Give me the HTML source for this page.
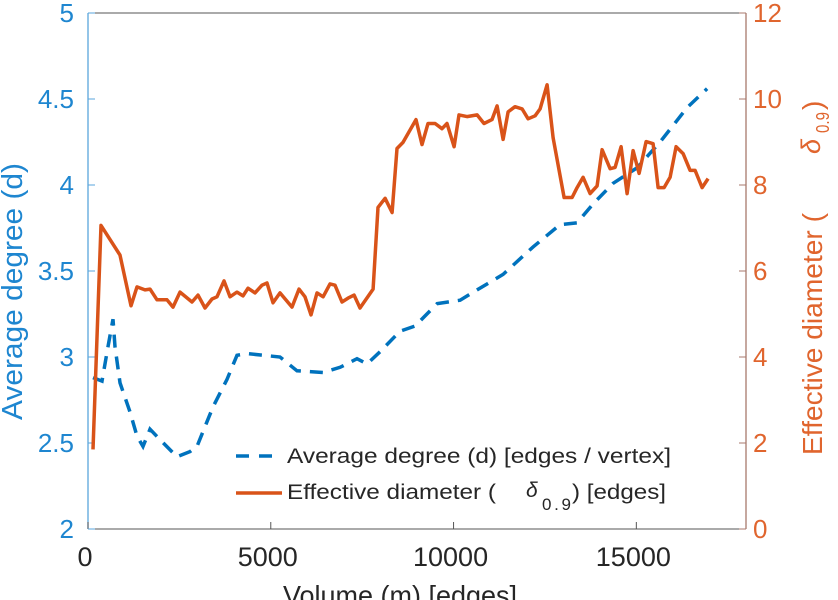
<!DOCTYPE html>
<html><head><meta charset="utf-8"><style>
html,body{margin:0;padding:0;background:#fff;}
svg{display:block;font-family:"Liberation Sans",sans-serif;}
</style></head><body>
<svg id="chart" width="838" height="600" viewBox="0 0 838 600">
<g id="axes"></g>
<g id="series"></g>
<g id="legend">
  <line x1="236" y1="456" x2="276" y2="456" stroke="#0072BD" stroke-width="3.5" stroke-dasharray="13,10"/>
  <text x="287" y="463" font-size="21" textLength="384" lengthAdjust="spacingAndGlyphs" fill="#262626">Average degree (d) [edges / vertex]</text>
  <line x1="236" y1="493" x2="282" y2="493" stroke="#D95319" stroke-width="3.5"/>
  <text x="287" y="499" font-size="21" textLength="209" lengthAdjust="spacingAndGlyphs" fill="#262626">Effective diameter (</text>
  <text x="526" y="497" font-size="21" font-style="italic" fill="#262626">δ</text>
  <text x="542" y="510" font-size="17" textLength="29" fill="#262626">0.9</text>
  <text x="572" y="499" font-size="21" textLength="94" lengthAdjust="spacingAndGlyphs" fill="#262626">) [edges]</text>
</g>
<text x="283" y="605" font-size="28" textLength="234" lengthAdjust="spacingAndGlyphs" fill="#262626">Volume (m) [edges]</text>
<text transform="translate(22,0) rotate(-90)" x="-420" y="0" font-size="29" textLength="257" lengthAdjust="spacingAndGlyphs" fill="#1E86D0">Average degree (d)</text>
<g transform="translate(822,0) rotate(-90)">
  <text x="-455" y="0" font-size="28" textLength="242" lengthAdjust="spacingAndGlyphs" fill="#E0652E">Effective diameter (</text>
  <text x="-154" y="-2" font-size="27" font-style="italic" fill="#E0652E">δ</text>
  <text x="-133" y="7" font-size="18" textLength="21" lengthAdjust="spacingAndGlyphs" fill="#E0652E">0.9</text>
  <text x="-110" y="0" font-size="28" fill="#E0652E">)</text>
</g>
</svg>
<script>
const xTicks = [0, 5000, 10000, 15000];
const leftTicks = [2, 2.5, 3, 3.5, 4, 4.5, 5];
const rightTicks = [0, 2, 4, 6, 8, 10, 12];
const degX = [137,383,547,684,739,876,1149,1341,1505,1696,1970,2435,2791,2982,3420,3803,4077,4350,5253,5718,6430,6895,7360,7634,7989,8536,8947,9549,10178,10643,11354,12175,12914,13379,13817,14364,15020,15650,16389,16936];
const degY = [2.88,2.86,3.06,3.22,3.06,2.85,2.68,2.54,2.48,2.58,2.52,2.42,2.45,2.48,2.71,2.87,3.01,3.02,3.00,2.92,2.91,2.94,2.99,2.96,3.03,3.15,3.18,3.31,3.33,3.39,3.48,3.64,3.77,3.78,3.89,4.01,4.10,4.25,4.45,4.56];
const diamX = [137,356,876,1176,1341,1560,1696,1888,2161,2326,2517,2845,3010,3201,3393,3529,3721,3885,4077,4241,4378,4569,4761,4897,5062,5253,5581,5773,5937,6101,6265,6430,6621,6758,6949,7114,7278,7442,7798,7934,8126,8318,8454,8618,8974,9138,9302,9494,9685,9822,10014,10150,10369,10643,10834,11053,11190,11354,11491,11682,11874,12038,12230,12367,12558,12722,13023,13242,13379,13543,13735,13926,14063,14282,14419,14583,14747,14911,15075,15267,15458,15595,15759,15923,16088,16279,16471,16608,16799,16963];
const diamY = [1.85,7.06,6.37,5.19,5.63,5.56,5.58,5.33,5.33,5.16,5.51,5.28,5.44,5.14,5.35,5.40,5.77,5.40,5.51,5.42,5.60,5.49,5.67,5.72,5.26,5.49,5.16,5.58,5.40,4.98,5.49,5.40,5.70,5.67,5.28,5.37,5.44,5.14,5.58,7.48,7.69,7.36,8.85,8.99,9.52,8.94,9.43,9.43,9.31,9.43,8.89,9.63,9.59,9.63,9.43,9.52,9.84,9.06,9.70,9.82,9.77,9.54,9.61,9.77,10.33,9.10,7.71,7.71,7.94,8.18,7.80,7.98,8.82,8.38,8.41,8.89,7.80,8.80,8.27,9.01,8.96,7.94,7.94,8.18,8.89,8.73,8.34,8.34,7.94,8.15];

const L=88,R=746,T=13,B=529;
const xS=v=>L+(v-0)/(18000)*(R-L);
const yL=v=>B-(v-2)/3*(B-T);
const yR=v=>B-v/12*(B-T);
const NS='http://www.w3.org/2000/svg';
function mk(tag,attrs,parent){const e=document.createElementNS(NS,tag);for(const k in attrs)e.setAttribute(k,attrs[k]);parent.appendChild(e);return e;}
const ax=document.getElementById('axes');
let e;
e=mk('line',{x1:L,y1:T,x2:R,y2:T,stroke:'#555','stroke-width':1},ax);


e=mk('line',{x1:L,y1:B,x2:R,y2:B,stroke:'#555','stroke-width':1},ax);


e=mk('line',{x1:L,y1:T,x2:L,y2:B,stroke:'#5AA6DC','stroke-width':1.3},ax);


e=mk('line',{x1:R,y1:T,x2:R,y2:B,stroke:'#A8796C','stroke-width':1.3},ax);


xTicks.forEach(v=>{
  mk('line',{x1:xS(v),y1:B,x2:xS(v),y2:B-7,stroke:'#555'},ax);
  const t=mk('text',{x:xS(v)-3,y:B+37,'font-size':27,fill:'#262626','text-anchor':'middle'},ax);
  t.textContent=v;
  
  
});
leftTicks.forEach(v=>{
  mk('line',{x1:L,y1:yL(v),x2:L+7,y2:yL(v),stroke:'#5AA6DC'},ax);
  const t=mk('text',{x:74,y:yL(v)+9,'font-size':26,fill:'#1E86D0','text-anchor':'end'},ax);
  t.textContent=v;
  
  
});
rightTicks.forEach(v=>{
  mk('line',{x1:R,y1:yR(v),x2:R-7,y2:yR(v),stroke:'#A8796C'},ax);
  const t=mk('text',{x:R+7,y:yR(v)+9,'font-size':26,fill:'#E0652E','text-anchor':'start'},ax);
  t.textContent=v;
  
  
});
const sg=document.getElementById('series');
const dPts=degX.map((x,i)=>xS(x).toFixed(1)+','+yL(degY[i]).toFixed(1)).join(' ');
const p1=mk('polyline',{points:dPts,fill:'none',stroke:'#0072BD','stroke-width':3.5,'stroke-dasharray':'13,9'},sg);


const ePts=diamX.map((x,i)=>xS(x).toFixed(1)+','+yR(diamY[i]).toFixed(1)).join(' ');
const p2=mk('polyline',{points:ePts,fill:'none',stroke:'#D95319','stroke-width':3.5,'stroke-linejoin':'round'},sg);


</script>
</body></html>
